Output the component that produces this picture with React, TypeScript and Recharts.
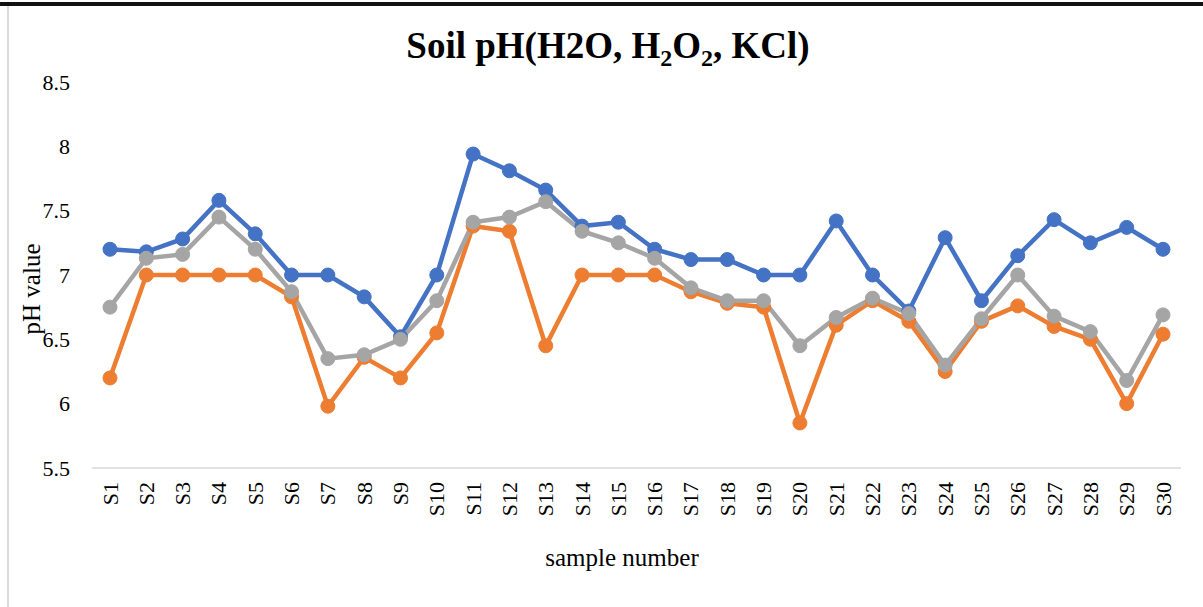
import React from "react";
import { LineChart, Line, XAxis, YAxis, Label } from "recharts";

const samples = [
  "S1", "S2", "S3", "S4", "S5", "S6", "S7", "S8", "S9", "S10",
  "S11", "S12", "S13", "S14", "S15", "S16", "S17", "S18", "S19", "S20",
  "S21", "S22", "S23", "S24", "S25", "S26", "S27", "S28", "S29", "S30",
];

// pH in water
const phH2O = [
  7.2, 7.18, 7.28, 7.58, 7.32, 7.0, 7.0, 6.83, 6.52, 7.0,
  7.94, 7.81, 7.66, 7.38, 7.41, 7.2, 7.12, 7.12, 7.0, 7.0,
  7.42, 7.0, 6.72, 7.29, 6.8, 7.15, 7.43, 7.25, 7.37, 7.2,
];

// pH in hydrogen peroxide
const phH2O2 = [
  6.2, 7.0, 7.0, 7.0, 7.0, 6.83, 5.98, 6.36, 6.2, 6.55,
  7.38, 7.34, 6.45, 7.0, 7.0, 7.0, 6.87, 6.78, 6.75, 5.85,
  6.61, 6.8, 6.64, 6.25, 6.64, 6.76, 6.6, 6.5, 6.0, 6.54,
];

// pH in KCl
const phKCl = [
  6.75, 7.13, 7.16, 7.45, 7.2, 6.87, 6.35, 6.38, 6.5, 6.8,
  7.41, 7.45, 7.57, 7.34, 7.25, 7.13, 6.9, 6.8, 6.8, 6.45,
  6.67, 6.82, 6.7, 6.3, 6.66, 7.0, 6.68, 6.56, 6.18, 6.69,
];

const yTicks = [5.5, 6, 6.5, 7, 7.5, 8, 8.5];

const data = samples.map((s, i) => ({
  name: s,
  h2o: phH2O[i],
  h2o2: phH2O2[i],
  kcl: phKCl[i],
}));

const font = "'Liberation Serif', 'Times New Roman', serif";

const SampleTick = ({ x, y, payload }: any) => (
  <text
    x={x}
    y={y}
    transform={`rotate(-90, ${x}, ${y})`}
    textAnchor="end"
    dominantBaseline="central"
    fontFamily={font}
    fontSize={22}
    fill="#000"
  >
    {payload.value}
  </text>
);

const App: React.FC = () => {
  return (
    <div style={{ position: "absolute", left: 0, top: 0, width: 1203, height: 607, background: "#fff" }}>
      <div style={{ position: "absolute", left: 0, top: 2, width: 1203, height: 4, background: "#111" }} />
      <div style={{ position: "absolute", left: 7, top: 6, width: 2, height: 601, background: "#d9d9d9" }} />
      <div
        style={{
          position: "absolute",
          left: 0,
          top: 22,
          width: 1216,
          textAlign: "center",
          fontFamily: font,
          fontWeight: "bold",
          fontSize: 37,
          lineHeight: "48px",
          color: "#000",
        }}
      >
        Soil pH(H2O, H<sub style={{ fontSize: 24 }}>2</sub>O<sub style={{ fontSize: 24 }}>2</sub>, KCl)
      </div>
      <LineChart
        width={1203}
        height={607}
        data={data}
        margin={{ top: 82, right: 22, bottom: 0, left: 0 }}
        style={{ position: "absolute", left: 0, top: 0 }}
      >
        <XAxis
          dataKey="name"
          height={139}
          interval={0}
          padding={{ left: 18, right: 18 }}
          tickLine={false}
          tickSize={0}
          tickMargin={14}
          tick={<SampleTick />}
          axisLine={{ stroke: "#d9d9d9", strokeWidth: 1.5 }}
        >
          <Label
            content={() => (
              <text x={622} y={557} textAnchor="middle" dominantBaseline="central" fontFamily={font} fontSize={25} fill="#000">
                sample number
              </text>
            )}
          />
        </XAxis>
        <YAxis
          width={92}
          domain={[5.5, 8.5]}
          ticks={yTicks}
          interval={0}
          axisLine={false}
          tickLine={false}
          tickSize={0}
          tickMargin={22}
          tick={{ fontFamily: font, fontSize: 22, fill: "#000" }}
        >
          <Label
            content={() => (
              <text
                x={31}
                y={289}
                transform="rotate(-90, 31, 289)"
                textAnchor="middle"
                dominantBaseline="central"
                fontFamily={font}
                fontSize={25}
                fill="#000"
              >
                pH value
              </text>
            )}
          />
        </YAxis>
        <Line
          dataKey="h2o"
          stroke="#4472C4"
          strokeWidth={4.5}
          dot={{ r: 7, fill: "#4472C4", stroke: "#4472C4", strokeWidth: 1 }}
          isAnimationActive={false}
        />
        <Line
          dataKey="h2o2"
          stroke="#ED7D31"
          strokeWidth={4.5}
          dot={{ r: 7, fill: "#ED7D31", stroke: "#ED7D31", strokeWidth: 1 }}
          isAnimationActive={false}
        />
        <Line
          dataKey="kcl"
          stroke="#A5A5A5"
          strokeWidth={4.5}
          dot={{ r: 7, fill: "#A5A5A5", stroke: "#A5A5A5", strokeWidth: 1 }}
          isAnimationActive={false}
        />
      </LineChart>
    </div>
  );
};

export default App;
